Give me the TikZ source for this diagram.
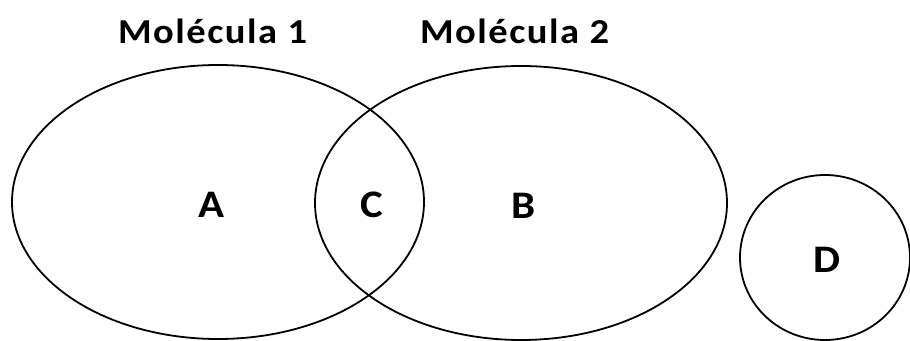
\documentclass[tikz,border=0pt]{standalone}
\usepackage{fontspec}
\setmainfont{Carlito}
\tikzset{
  ring/.style={draw=black, line width=1.8pt},
  title/.style={inner sep=0pt, anchor=base, font=\bfseries\fontsize{35pt}{40pt}\selectfont\addfontfeature{LetterSpace=4}},
  region/.style={inner sep=0pt, font=\bfseries\fontsize{39pt}{44pt}\selectfont}
}
\begin{document}
\begin{tikzpicture}[x=1pt,y=1pt]
\useasboundingbox (0,0) rectangle (910,340);
\fill[white] (0,0) rectangle (910,340);
\draw[ring] (218,138) ellipse [x radius=206, y radius=137];
\draw[ring] (521,137) ellipse [x radius=206, y radius=137];
\draw[ring] (825,82.5) ellipse [x radius=85, y radius=82.5];
\node[title] (t1) at (212.5,296) {\scalebox{1.1}[1]{Molécula 1}};
\node[title] (t2) at (514.5,296) {\scalebox{1.1}[1]{Molécula 2}};
\node[region] (a) at (211,135) {\scalebox{1.1}[1]{A}};
\node[region] (c) at (372,135) {\scalebox{1.1}[1]{C}};
\node[region] (b) at (524,134) {\scalebox{1.1}[1]{B}};
\node[region] (d) at (827,80) {\scalebox{1.1}[1]{D}};
\end{tikzpicture}
\end{document}
